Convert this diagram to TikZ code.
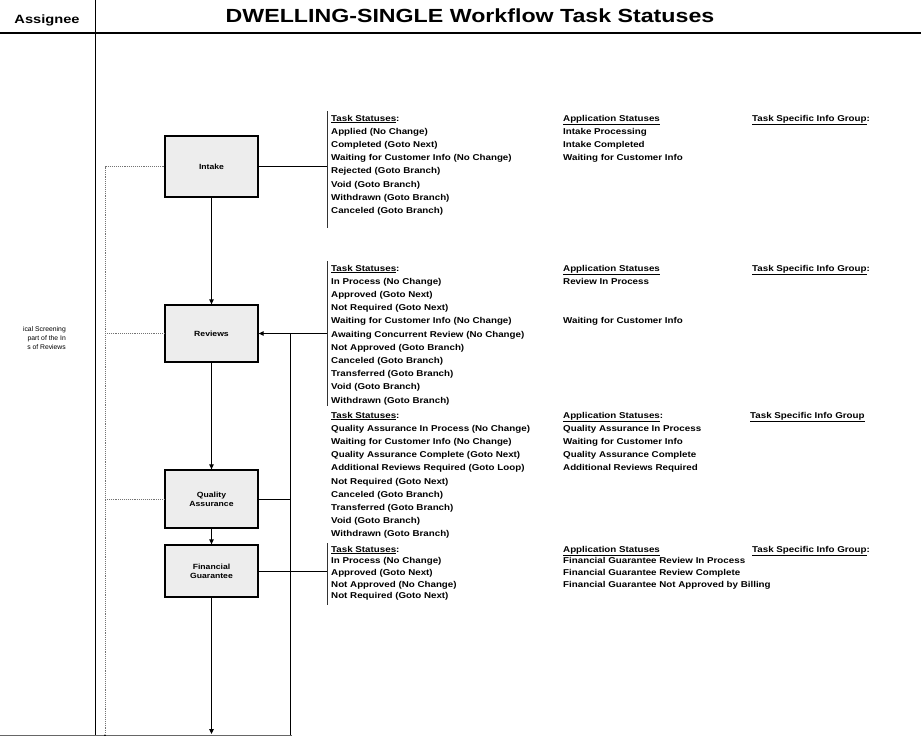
\documentclass[tikz,border=0pt]{standalone}
\usepackage{fontspec}
\setmainfont{Liberation Sans}
\newfontfamily\wide[FakeStretch=1.15]{Liberation Sans}
\newfontfamily\wider[FakeStretch=1.22]{Liberation Sans}
\usetikzlibrary{arrows.meta}
\newcommand{\blockrows}[5]{% x, first row centre, step, name, list
  \foreach \t [count=\i from 0] in {#5} {
    \node[row] (#4-\i) at (#1, {#2+3+\i*#3}) {\t};
  }}
\begin{document}
\begin{tikzpicture}[x=1pt,y=-1pt,
  taskbox/.style={draw=black, line width=1.3pt, fill=gray!14, minimum width=93pt, align=center, inner sep=1pt, font=\wide\fontsize{7.5}{9}\selectfont\bfseries},
  flow/.style={line width=1pt, -{Triangle[length=5pt,width=4.5pt]}},
  plain/.style={line width=1pt},
  fb/.style={black!55, densely dotted, line width=0.9pt},
  brk/.style={black!80, line width=0.9pt},
  row/.style={anchor=base west, inner sep=0pt, font=\wide\fontsize{8.5}{10}\selectfont\bfseries}
]
\useasboundingbox (0,0) rectangle (921,736);
% header
\node[font=\wider\fontsize{19}{21}\selectfont\bfseries] (title) at (470,16) {DWELLING-SINGLE Workflow Task Statuses};
\node[font=\wider\fontsize{12}{14}\selectfont\bfseries] (assignee) at (47,20) {Assignee};
\draw[line width=1.6pt] (0,33) -- (921,33);
\draw[line width=0.9pt] (95,0) -- (95,736);
\draw[black!60, line width=0.6pt] (0,735) -- (292,735);

% left note
\node[anchor=north east, align=right, inner sep=0pt, font=\fontsize{6.8}{9}\selectfont] (note) at (66,326) {ical Screening\\part of the In\\s of Reviews};

% boxes
\node[taskbox, minimum height=61pt] (intake) at (211.5,166.5) {Intake};
\node[taskbox, minimum height=57pt] (reviews) at (211.5,333.5) {Reviews};
\node[taskbox, minimum height=58pt] (qa) at (211.5,499) {Quality\\Assurance};
\node[taskbox, minimum height=52pt] (fg) at (211.5,571) {Financial\\Guarantee};

% coordinates
\coordinate (bi) at (327,166.5);
\coordinate (br) at (327,333.5);
\coordinate (vr) at (290,333.5);
\coordinate (vq) at (290,499);
\coordinate (vb) at (290,735);
\coordinate (bf) at (327,571);
\coordinate (end) at (211.5,734);
\coordinate (lt) at (105,166.5);
\coordinate (lr) at (105,333.5);
\coordinate (lq) at (105,499);
\coordinate (lend) at (105,734);

% flow
\draw[flow] (intake) -- (reviews);
\draw[flow] (reviews) -- (qa);
\draw[flow] (qa) -- (fg);
\draw[flow] (fg) -- (end);
\draw[plain] (intake.east) -- (bi);
\draw[flow] (br) -- (reviews.east);
\draw[plain] (vr) -- (vb);
\draw[plain] (qa.east) -- (vq);
\draw[plain] (fg.east) -- (bf);
% left dotted
\draw[fb] (intake.west) -- (lt) -- (lend);
\draw[-{Triangle[length=5pt,width=4.5pt]}, black, line width=0.9pt] ([yshift=-6pt]lend) -- (lend);
\draw[fb] (lr) -- (reviews.west);
\draw[fb] (lq) -- (qa.west);

% brackets
\draw[brk] (327,111) -- (327,228);
\draw[brk] (327,261) -- (327,406);
\draw[brk] (327,543) -- (327,605);

% Intake block
\blockrows{331}{118}{13.2}{it}{{\underline{Task Statuses}:},{Applied (No Change)},{Completed (Goto Next)},{Waiting for Customer Info (No Change)},{Rejected (Goto Branch)},{Void (Goto Branch)},{Withdrawn (Goto Branch)},{Canceled (Goto Branch)}}
\blockrows{563}{118}{13.2}{ia}{{\underline{Application Statuses}},{Intake Processing},{Intake Completed},{Waiting for Customer Info}}
\blockrows{752}{118}{13.2}{ig}{{\underline{Task Specific Info Group}:}}

% Reviews block
\blockrows{331}{268}{13.2}{rt}{{\underline{Task Statuses}:},{In Process (No Change)},{Approved (Goto Next)},{Not Required (Goto Next)},{Waiting for Customer Info (No Change)},{Awaiting Concurrent Review (No Change)},{Not Approved (Goto Branch)},{Canceled (Goto Branch)},{Transferred (Goto Branch)},{Void (Goto Branch)},{Withdrawn (Goto Branch)}}
\blockrows{563}{268}{13.2}{ra}{{\underline{Application Statuses}},{Review In Process}}
\node[row] (ra-4) at (563,{268+3+4*13.2}) {Waiting for Customer Info};
\blockrows{752}{268}{13.2}{rg}{{\underline{Task Specific Info Group}:}}

% QA block
\blockrows{331}{415}{13.2}{qt}{{\underline{Task Statuses}:},{Quality Assurance In Process (No Change)},{Waiting for Customer Info (No Change)},{Quality Assurance Complete (Goto Next)},{Additional Reviews Required (Goto Loop)},{Not Required (Goto Next)},{Canceled (Goto Branch)},{Transferred (Goto Branch)},{Void (Goto Branch)},{Withdrawn (Goto Branch)}}
\blockrows{563}{415}{13.2}{qs}{{\underline{Application Statuses}:},{Quality Assurance In Process},{Waiting for Customer Info},{Quality Assurance Complete},{Additional Reviews Required}}
\blockrows{750}{415}{13.2}{qg}{{\underline{Task Specific Info Group}}}

% FG block
\blockrows{331}{549}{11.7}{ft}{{\underline{Task Statuses}:},{In Process (No Change)},{Approved (Goto Next)},{Not Approved (No Change)},{Not Required (Goto Next)}}
\blockrows{563}{549}{11.7}{fs}{{\underline{Application Statuses}},{Financial Guarantee Review In Process},{Financial Guarantee Review Complete},{Financial Guarantee Not Approved by Billing}}
\blockrows{752}{549}{11.7}{fgg}{{\underline{Task Specific Info Group}:}}
\end{tikzpicture}
\end{document}
